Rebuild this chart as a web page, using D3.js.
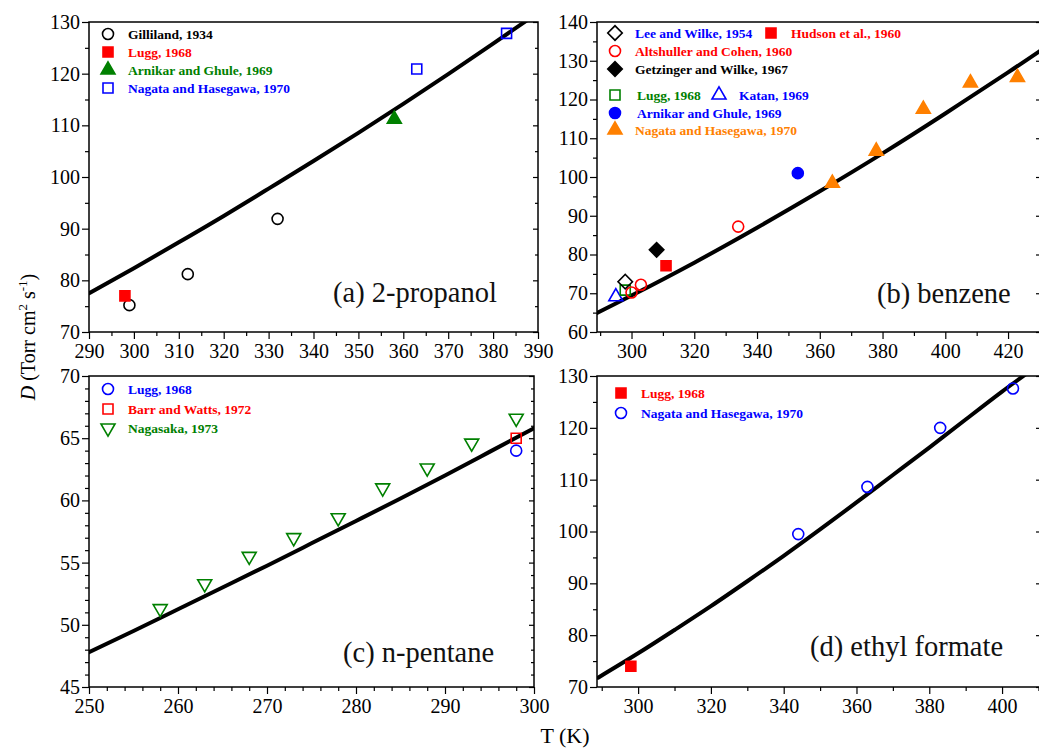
<!DOCTYPE html>
<html>
<head>
<meta charset="utf-8">
<script src="https://cdn.jsdelivr.net/npm/d3@7"></script>
<style>
    body { margin: 0; background: #fff; }
    svg { display: block; }
</style>
</head>
<body>
<div id="chart"></div>
<script>
// tick labels
const propanolTicksT = [290, 300, 310, 320, 330, 340, 350, 360, 370, 380, 390]
const propanolTicksD = [70, 80, 90, 100, 110, 120, 130]
const benzeneTicksT = [300, 320, 340, 360, 380, 400, 420]
const benzeneTicksD = [60, 70, 80, 90, 100, 110, 120, 130, 140]
const pentaneTicksT = [250, 260, 270, 280, 290, 300]
const pentaneTicksD = [45, 50, 55, 60, 65, 70]
const formateTicksT = [300, 320, 340, 360, 380, 400]
const formateTicksD = [70, 80, 90, 100, 110, 120, 130]

// (a) 2-propanol, [T (K), D]
const propanolGilliland = [[299, 75.2], [312, 81.2], [332, 91.9]]
const propanolLugg = [[298, 77.0]]
const propanolArnikar = [[358, 111.2]]
const propanolNagata = [[363, 120.9], [383, 127.8]]
const propanolCurve = [[290, 77.5], [300, 82.35], [310, 87.35], [320, 92.45], [330, 97.75], [340, 103.1], [350, 108.55], [360, 114.15], [370, 119.9], [380, 125.8], [390, 131.8]]

// (b) benzene
const benzeneLee = [[298, 73.0]]
const benzeneHudson = [[311, 77.1]]
const benzeneAltshuller = [[300, 70.2], [303, 72.2], [334, 87.2]]
const benzeneGetzinger = [[308, 81.2]]
const benzeneLugg = [[298, 70.8]]
const benzeneKatan = [[295, 69.1]]
const benzeneArnikar = [[353, 101.0]]
const benzeneNagata = [[364, 98.4], [378, 106.7], [393, 117.5], [408, 124.3], [423, 125.7]]
const benzeneCurve = [[289, 64.9], [300, 69.4], [320, 77.9], [340, 86.9], [360, 96.3], [380, 106.1], [400, 116.4], [420, 127.0], [431, 133.0]]

// (c) n-pentane
const pentaneLugg = [[298, 64.0]]
const pentaneBarr = [[298, 65.0]]
const pentaneNagasaka = [[258, 51.3], [263, 53.3], [268, 55.5], [273, 57.0], [278, 58.6], [283, 61.0], [288, 62.6], [293, 64.6], [298, 66.6]]
const pentaneCurve = [[250, 47.8], [255, 49.5], [260, 51.25], [265, 53.0], [270, 54.75], [275, 56.55], [280, 58.35], [285, 60.15], [290, 62.0], [295, 63.9], [300, 65.8]]

// (d) ethyl formate
const formateLugg = [[298, 74.0]]
const formateNagata = [[344, 99.5], [363, 108.6], [383, 120.0], [403, 127.6]]
const formateCurve = [[289, 71.8], [300, 76.5], [310, 81.0], [320, 85.6], [330, 90.4], [340, 95.3], [350, 100.4], [360, 105.6], [370, 110.9], [380, 116.2], [390, 121.6], [400, 127.0], [411, 132.6]]

const RED = "#ff0000", BLUE = "#0000ff", GREEN = "#008000", ORANGE = "#ff8000", BLACK = "#000"
const SERIF = "'Liberation Serif', 'DejaVu Serif', 'Times New Roman', serif"

const panels = [
    {
        left: 89, top: 22, right: 538, bottom: 332,
        xDomain: [290, 390], yDomain: [70, 130],
        xTicks: propanolTicksT, yTicks: propanolTicksD, xStep: 5, yStep: 5, rStep: 5,
        label: "(a) 2-propanol", labelX: 333, labelY: 302,
        curve: propanolCurve,
        series: [
            { data: propanolGilliland, shape: "circle", color: BLACK, filled: false, name: "Gilliland, 1934", text: BLACK, lx: 108, ly: 34, tx: 128 },
            { data: propanolLugg, shape: "square", color: RED, filled: true, name: "Lugg, 1968", text: RED, lx: 108, ly: 52, tx: 128 },
            { data: propanolArnikar, shape: "triangle", color: GREEN, filled: true, name: "Arnikar and Ghule, 1969", text: GREEN, lx: 108, ly: 70, tx: 128 },
            { data: propanolNagata, shape: "square", color: BLUE, filled: false, name: "Nagata and Hasegawa, 1970", text: BLUE, lx: 108, ly: 88, tx: 128 }
        ]
    },
    {
        left: 597, top: 22, right: 1041, bottom: 332,
        xDomain: [289, 430.5], yDomain: [60, 140],
        xTicks: benzeneTicksT, yTicks: benzeneTicksD, xStep: 10, yStep: 5, rStep: 10,
        label: "(b) benzene", labelX: 877, labelY: 303,
        curve: benzeneCurve,
        series: [
            { data: benzeneNagata, shape: "triangle", color: ORANGE, filled: true, name: "Nagata and Hasegawa, 1970", text: ORANGE, lx: 615, ly: 130, tx: 635 },
            { data: benzeneArnikar, shape: "circle", color: BLUE, filled: true, name: "Arnikar and Ghule, 1969", text: BLUE, lx: 615, ly: 113, tx: 637 },
            { data: benzeneKatan, shape: "triangle", color: BLUE, filled: false, name: "Katan, 1969", text: BLUE, lx: 719, ly: 95, tx: 739 },
            { data: benzeneLugg, shape: "square", color: GREEN, filled: false, name: "Lugg, 1968", text: GREEN, lx: 615, ly: 95, tx: 637 },
            { data: benzeneGetzinger, shape: "diamond", color: BLACK, filled: true, name: "Getzinger and Wilke, 1967", text: BLACK, lx: 615, ly: 69, tx: 635 },
            { data: benzeneAltshuller, shape: "circle", color: RED, filled: false, name: "Altshuller and Cohen, 1960", text: RED, lx: 615, ly: 51, tx: 635 },
            { data: benzeneHudson, shape: "square", color: RED, filled: true, name: "Hudson et al., 1960", text: RED, lx: 771, ly: 33, tx: 791 },
            { data: benzeneLee, shape: "diamond", color: BLACK, filled: false, name: "Lee and Wilke, 1954", text: BLUE, lx: 615, ly: 33, tx: 635 }
        ]
    },
    {
        left: 89, top: 376, right: 534, bottom: 687,
        xDomain: [250, 300], yDomain: [45, 70],
        xTicks: pentaneTicksT, yTicks: pentaneTicksD, xStep: 2, yStep: 1, rStep: 1,
        label: "(c) n-pentane", labelX: 343, labelY: 662,
        curve: pentaneCurve,
        series: [
            { data: pentaneNagasaka, shape: "triangleDown", color: GREEN, filled: false, name: "Nagasaka, 1973", text: GREEN, lx: 108, ly: 428, tx: 128 },
            { data: pentaneBarr, shape: "square", color: RED, filled: false, name: "Barr and Watts, 1972", text: RED, lx: 108, ly: 409, tx: 128 },
            { data: pentaneLugg, shape: "circle", color: BLUE, filled: false, name: "Lugg, 1968", text: BLUE, lx: 108, ly: 389, tx: 128 }
        ]
    },
    {
        left: 597, top: 376, right: 1041, bottom: 687,
        xDomain: [288.7, 410.7], yDomain: [70, 130],
        xTicks: formateTicksT, yTicks: formateTicksD, xStep: 10, yStep: 5, rStep: 10,
        label: "(d) ethyl formate", labelX: 810, labelY: 656,
        curve: formateCurve,
        series: [
            { data: formateLugg, shape: "square", color: RED, filled: true, name: "Lugg, 1968", text: RED, lx: 621, ly: 393, tx: 641 },
            { data: formateNagata, shape: "circle", color: BLUE, filled: false, name: "Nagata and Hasegawa, 1970", text: BLUE, lx: 621, ly: 413, tx: 641 }
        ]
    }
]

const shapes = {
    circle: { type: d3.symbolCircle, size: 95, rot: 0 },
    square: { type: d3.symbolSquare, size: 100, rot: 0 },
    triangle: { type: d3.symbolTriangle, size: 85, rot: 0 },
    triangleDown: { type: d3.symbolTriangle, size: 85, rot: 180 },
    diamond: { type: d3.symbolSquare, size: 105, rot: 45 }
}

const svg = d3.select("#chart").append("svg")
    .attr("width", 1039)
    .attr("height", 748)
    .attr("font-family", SERIF)

function marker(g, cx, cy, s) {
    const sh = shapes[s.shape]
    g.append("path")
        .attr("d", d3.symbol().type(sh.type).size(sh.size)())
        .attr("transform", `translate(${cx},${cy}) rotate(${sh.rot})`)
        .attr("fill", s.filled ? s.color : "none")
        .attr("stroke", s.color)
        .attr("stroke-width", 1.6)
}

function minor(domain, step, major) {
    return d3.range(Math.ceil(domain[0] / step) * step, domain[1] + 1e-6, step)
        .filter(v => !major.includes(v))
}

function styleAxis(g) {
    g.select(".domain").remove()
    g.attr("font-family", SERIF).attr("font-size", 20)
    g.selectAll(".tick line").attr("stroke", "#000").attr("stroke-width", 1.2)
    g.selectAll(".tick text").attr("fill", "#000")
}

panels.forEach((p, i) => {
    const x = d3.scaleLinear().domain(p.xDomain).range([p.left, p.right])
    const y = d3.scaleLinear().domain(p.yDomain).range([p.bottom, p.top])
    const g = svg.append("g")

    // bottom axis
    g.append("g").attr("transform", `translate(0,${p.bottom})`)
        .call(d3.axisBottom(x).tickValues(minor(p.xDomain, p.xStep, p.xTicks)).tickSize(4).tickFormat(""))
        .call(styleAxis)
    g.append("g").attr("transform", `translate(0,${p.bottom})`)
        .call(d3.axisBottom(x).tickValues(p.xTicks).tickSize(7).tickPadding(5).tickFormat(d3.format("d")))
        .call(styleAxis)

    // left axis
    g.append("g").attr("transform", `translate(${p.left},0)`)
        .call(d3.axisLeft(y).tickValues(minor(p.yDomain, p.yStep, p.yTicks)).tickSize(4).tickFormat(""))
        .call(styleAxis)
    g.append("g").attr("transform", `translate(${p.left},0)`)
        .call(d3.axisLeft(y).tickValues(p.yTicks).tickSize(7).tickPadding(2).tickFormat(d3.format("d")))
        .call(styleAxis)

    // right axis, ticks pointing in
    g.append("g").attr("transform", `translate(${p.right},0)`)
        .call(d3.axisRight(y).tickValues(minor(p.yDomain, p.rStep, p.yTicks)).tickSize(-3).tickFormat(""))
        .call(styleAxis)
    g.append("g").attr("transform", `translate(${p.right},0)`)
        .call(d3.axisRight(y).tickValues(p.yTicks).tickSize(-5).tickFormat(""))
        .call(styleAxis)

    g.append("rect")
        .attr("x", p.left).attr("y", p.top)
        .attr("width", p.right - p.left).attr("height", p.bottom - p.top)
        .attr("fill", "none").attr("stroke", "#000").attr("stroke-width", 1.5)

    svg.append("clipPath").attr("id", "clip" + i)
        .append("rect")
        .attr("x", p.left).attr("y", p.top)
        .attr("width", p.right - p.left).attr("height", p.bottom - p.top)

    const line = d3.line()
        .x(d => x(d[0]))
        .y(d => y(d[1]))
        .curve(d3.curveNatural)

    g.append("path")
        .datum(p.curve)
        .attr("clip-path", `url(#clip${i})`)
        .attr("d", line)
        .attr("fill", "none")
        .attr("stroke", "#000")
        .attr("stroke-width", 4)
        .attr("stroke-linecap", "round")

    const pts = g.append("g").attr("clip-path", `url(#clip${i})`)
    p.series.forEach(s => {
        s.data.forEach(d => marker(pts, x(d[0]), y(d[1]), s))
    })

    // legend
    p.series.forEach(s => {
        marker(g, s.lx, s.ly, s)
        g.append("text")
            .attr("x", s.tx)
            .attr("y", s.ly)
            .attr("dy", "0.35em")
            .attr("font-family", SERIF)
            .attr("fill", s.text)
            .attr("font-size", 13.5)
            .attr("font-weight", "bold")
            .text(s.name)
    })

    g.append("text")
        .attr("x", p.labelX)
        .attr("y", p.labelY)
        .attr("font-family", SERIF)
        .attr("font-size", 28.5)
        .attr("fill", "#111")
        .text(p.label)
})

// axis titles
const yTitle = svg.append("text")
    .attr("transform", "translate(35,337) rotate(-90)")
    .attr("text-anchor", "middle")
    .attr("font-family", SERIF)
    .attr("font-size", 20)
    .attr("fill", "#000")
yTitle.append("tspan").attr("font-style", "italic").text("D")
yTitle.append("tspan").text(" (Torr cm")
yTitle.append("tspan").attr("font-size", 13).attr("dy", -8).text("2")
yTitle.append("tspan").attr("dy", 8).text(" s")
yTitle.append("tspan").attr("font-size", 13).attr("dy", -8).text("-1")
yTitle.append("tspan").attr("dy", 8).text(")")

svg.append("text")
    .attr("x", 565)
    .attr("y", 743)
    .attr("text-anchor", "middle")
    .attr("font-family", SERIF)
    .attr("font-size", 22)
    .attr("fill", "#000")
    .text("T (K)")
</script>
</body>
</html>
